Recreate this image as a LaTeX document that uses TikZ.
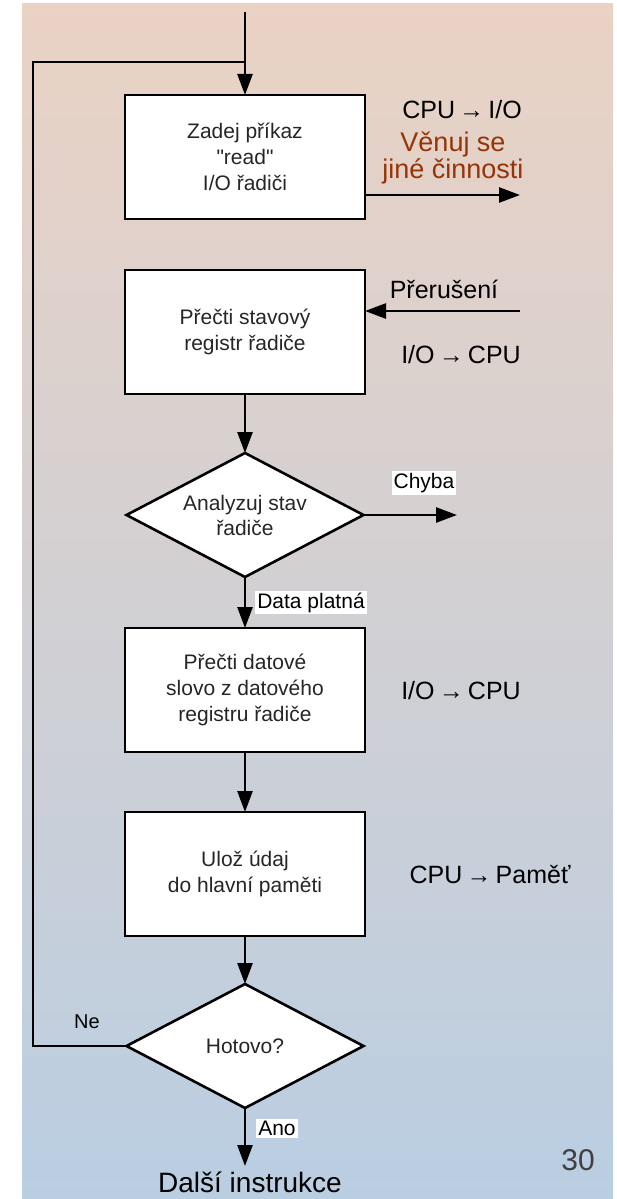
\documentclass[tikz,border=0pt]{standalone}
\usepackage{fontspec}
\setmainfont{Liberation Sans}
\usetikzlibrary{shapes.geometric,arrows.meta,positioning}

\definecolor{bgtop}{RGB}{234,210,196}
\definecolor{bgmid}{RGB}{214,178,200}
\definecolor{bgbot}{RGB}{186,206,226}
\definecolor{busybrown}{RGB}{150,52,8}

\begin{document}
\begin{tikzpicture}[
  x=1pt, y=-1pt,
  box/.style={rectangle, draw, fill=white, line width=2.6pt,
    outer sep=0pt, minimum width=240pt, minimum height=124pt,
    align=center, text=black!85, font=\fontsize{21}{26}\selectfont},
  dec/.style={diamond, draw, fill=white, line width=2.6pt,
    outer sep=0pt, minimum width=237pt, minimum height=124pt,
    inner sep=0pt, aspect=1.91, align=center, text=black!85,
    font=\fontsize{21}{25}\selectfont},
  arr/.style={-{Triangle[length=21pt,width=15pt]}, line width=2.6pt},
  line/.style={line width=2.6pt},
  side/.style={font=\fontsize{25}{25}\selectfont, align=center},
  tag/.style={fill=white, inner sep=2pt, font=\fontsize{21}{21}\selectfont}
]
  \useasboundingbox (0,0) rectangle (617,1199);
  \shade[top color=bgtop, middle color=bgmid, bottom color=bgbot]
    (22,4) rectangle (613,1199);

  \node[box] (cmd) at (245,157)
    {Zadej příkaz\\\textquotedbl read\textquotedbl\\I/O řadiči};
  \node[box, below=51pt of cmd] (stat)
    {Přečti stavový\\registr řadiče};
  \node[dec, below=59pt of stat] (chk)
    {Analyzuj stav\\řadiče};
  \node[box, below=51pt of chk] (read)
    {Přečti datové\\slovo z datového\\registru řadiče};
  \node[box, below=60pt of read] (store)
    {Ulož údaj\\do hlavní paměti};
  \node[dec, below=48pt of store] (done) {Hotovo?};

  \coordinate (entry) at (245,12);
  \coordinate (join) at (245,62);
  \coordinate (left) at (33,62);
  \coordinate (busy) at (520,195);
  \coordinate (irq) at (520,311);
  \coordinate (err) at (457,515);
  \coordinate (next) at (245,1166);

  \node[side] (dir1) at (462,110) {CPU\,→\,I/O};
  \node[side, text=busybrown, font=\fontsize{27}{24}\selectfont] (other)
    at (453,158) {Věnuj se\\jiné činnosti};
  \node[side] (intr) at (444,289) {Přerušení};
  \node[side] (dir2) at (461,355) {I/O\,→\,CPU};
  \node[side] (dir3) at (461,691) {I/O\,→\,CPU};
  \node[side] (dir4) at (490,875) {CPU\,→\,Paměť};
  \node[tag] (chyba) at (424,483) {Chyba};
  \node[font=\fontsize{20}{20}\selectfont] (ne) at (87,1022) {Ne};
  \node[font=\fontsize{28}{28}\selectfont] (nxt) at (250,1182)
    {Další instrukce};
  \node[font=\fontsize{30}{30}\selectfont, text=black!75] (page)
    at (578,1160) {30};

  \draw[arr] (entry) -- (cmd);
  \draw[line] (done.west) -| (left) -- (join);
  \draw[arr] (cmd.east |- busy) -- (busy);
  \draw[arr] (irq) -- (irq -| stat.east);
  \draw[arr] (stat) -- (chk);
  \draw[arr] (chk.east) -- (err);
  \draw[arr] (chk) -- node[tag, right=9pt]{Data platná} (read);
  \draw[arr] (read) -- (store);
  \draw[arr] (store) -- (done);
  \draw[arr] (done) -- node[tag, right=10pt, pos=0.35]{Ano} (next);
\end{tikzpicture}
\end{document}
